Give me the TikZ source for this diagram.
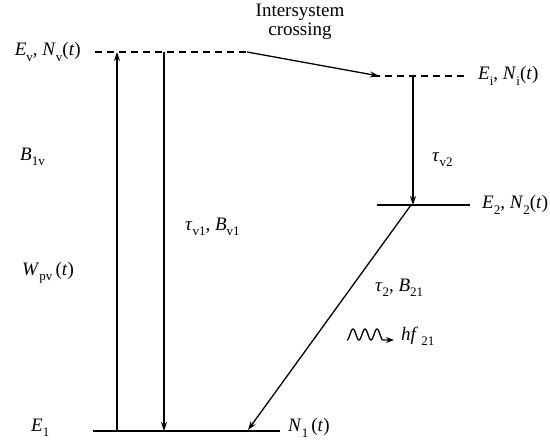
\documentclass[tikz,border=0pt]{standalone}
\usepackage{fontspec}
\setmainfont{Liberation Serif}
\usetikzlibrary{arrows.meta}
\newcommand{\sbs}[1]{\raisebox{-0.28em}{\fontsize{13}{13}\selectfont #1}}
\newcommand{\iv}[1]{\textit{#1}}
\begin{document}
\begin{tikzpicture}[x={(1pt,0)},y={(0,-1pt)},
  lvl/.style={line width=1.4pt},
  dlvl/.style={line width=1.4pt,dash pattern=on 7pt off 5pt},
  trans/.style={line width=1.3pt,-{Stealth[length=9pt,width=6pt]}},
  lbl/.style={inner sep=0pt,font=\fontsize{19}{22}\selectfont}]
\useasboundingbox (0,0) rectangle (550,441);
% levels
\coordinate (vL) at (95,52); \coordinate (vR) at (247,52);
\coordinate (iL) at (373,76); \coordinate (iR) at (468,76);
\coordinate (twoL) at (377,205); \coordinate (twoR) at (470,205);
\coordinate (oneL) at (93,431); \coordinate (oneR) at (280,431);
\draw[dlvl] (vL) -- (vR);
\draw[dlvl] (iL) -- (iR);
\draw[lvl] (twoL) -- (twoR);
\draw[lvl] (oneL) -- (oneR);
% transitions
\coordinate (upB) at (117,431); \coordinate (upT) at (117,52);
\coordinate (dnT) at (164,52); \coordinate (dnB) at (164,431);
\coordinate (iscE) at (379,76);
\coordinate (ivT) at (413,76); \coordinate (ivB) at (413,205);
\coordinate (dgT) at (411,205); \coordinate (dgB) at (248,430);
\draw[trans] (upB) -- (upT);
\draw[trans] (dnT) -- (dnB);
\draw[trans] (vR) -- (iscE);
\draw[trans] (ivT) -- (ivB);
\draw[trans] (dgT) -- (dgB);
% wavy photon
\coordinate (wvE) at (394,340);
\draw[line width=1.3pt,line join=round,-{Stealth[length=8pt,width=6pt]}]
  plot[domain=0:36,samples=73,smooth] ({347+\x},{340-5.5*(1-cos(\x*30))}) -- (wvE);
% labels
\node[lbl,anchor=east] (Lv) at (81,52) {\iv{E}\sbs{v}, \iv{N}\sbs{v}(\iv{t})};
\node[lbl,align=center] (Lisc) at (300,22) {Intersystem\\[-3pt]crossing};
\node[lbl,anchor=west] (Li) at (478,76) {\iv{E}\sbs{i}, \iv{N}\sbs{i}(\iv{t})};
\node[lbl,anchor=west] (L2) at (482,205) {\iv{E}\sbs{2}, \iv{N}\sbs{2}(\iv{t})};
\node[lbl,anchor=west] (Ltv2) at (432,160) {\iv{τ}\sbs{v2}};
\node[lbl,anchor=west] (LB1v) at (20,157) {\iv{B}\sbs{1v}};
\node[lbl,anchor=west] (LW) at (22,273) {\iv{W}\sbs{pv}\,(\iv{t})};
\node[lbl,anchor=west] (Ltv1) at (185,227) {\iv{τ}\sbs{v1}, \iv{B}\sbs{v1}};
\node[lbl,anchor=west] (Lt2) at (375,288) {\iv{τ}\sbs{2}, \iv{B}\sbs{21}};
\node[lbl,anchor=west] (Lhf) at (401,336) {\iv{hf}\,\sbs{21}};
\node[lbl,anchor=west] (LE1) at (31,428) {\iv{E}\sbs{1}};
\node[lbl,anchor=west] (LN1) at (288,428) {\iv{N}\sbs{1}\,(\iv{t})};
\end{tikzpicture}
\end{document}
